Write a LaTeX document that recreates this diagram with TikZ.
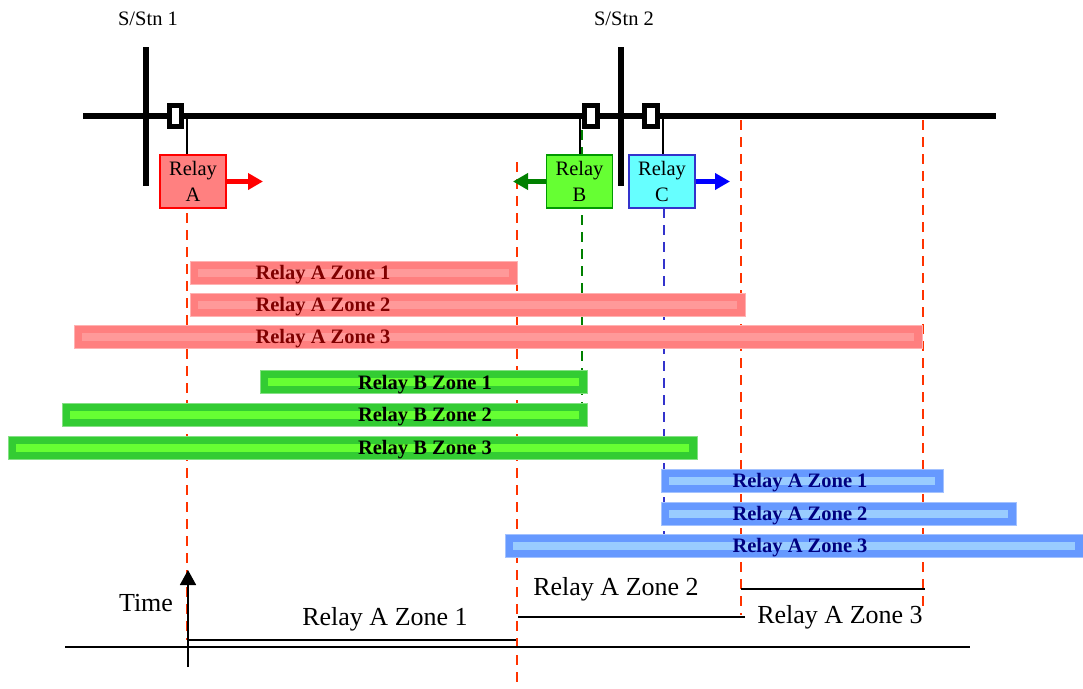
\documentclass[tikz,border=0pt]{standalone}
\usepackage{fontspec}
\setmainfont{Liberation Serif}
\usetikzlibrary{arrows.meta}
\definecolor{rO}{HTML}{FF7F7F}
\definecolor{rI}{HTML}{FF9999}
\definecolor{rT}{HTML}{800000}
\definecolor{gO}{HTML}{33CC33}
\definecolor{gI}{HTML}{66FF33}
\definecolor{gT}{HTML}{000000}
\definecolor{bO}{HTML}{6699FF}
\definecolor{bI}{HTML}{99CCFF}
\definecolor{bT}{HTML}{000080}
\definecolor{dashred}{HTML}{FF3300}
\definecolor{relayAfill}{HTML}{FF8080}
\definecolor{relayBfill}{HTML}{66FF33}
\definecolor{relayBline}{HTML}{009900}
\definecolor{relayCfill}{HTML}{66FFFF}
\definecolor{relayCline}{HTML}{3333CC}
\definecolor{arrG}{HTML}{008000}
\tikzset{
  bus/.style={line width=5.3pt, black},
  brk/.style={draw=black, fill=white, line width=5pt, minimum width=12.2pt, minimum height=20.6pt, inner sep=0pt},
  tap/.style={line width=1.2pt, black},
  relaybox/.style={line width=1.5pt, minimum width=66pt, minimum height=53pt, inner sep=0pt, align=center, font=\fontsize{20.5}{26}\selectfont},
  dirarrow/.style={line width=4.5pt, -{Triangle[length=15pt,width=16pt]}},
  reach/.style={line width=2.6pt, dash pattern=on 10pt off 7pt},
  barlabel/.style={font=\fontsize{20.5}{24}\selectfont\bfseries, inner sep=0pt, anchor=base},
  smalltext/.style={font=\fontsize{20.5}{24}\selectfont, inner sep=0pt, anchor=base},
  bigtext/.style={font=\fontsize{26}{30}\selectfont, inner sep=0pt, anchor=base},
  stepline/.style={line width=1.6pt, black},
}
\begin{document}
\begin{tikzpicture}[x=1pt,y=-1pt]
\useasboundingbox (0,0) rectangle (1083,688);

% station labels
\node[smalltext] (stn1) at (148,25) {S/Stn 1};
\node[smalltext] (stn2) at (624,25) {S/Stn 2};

% reach dashed lines (behind bars)
\coordinate (dA1) at (187,145); \coordinate (dA2) at (187,640);
\coordinate (dB1) at (517,162); \coordinate (dB2) at (517,688);
\coordinate (dC1) at (741,120); \coordinate (dC2) at (741,615);
\coordinate (dD1) at (923,120); \coordinate (dD2) at (923,610);
\coordinate (dG1) at (582,130); \coordinate (dG2) at (582,426);
\coordinate (dL1) at (664,208); \coordinate (dL2) at (664,535);
\draw[reach, dashred] (dA1) -- (dA2);
\draw[reach, dashred] (dB1) -- (dB2);
\draw[reach, dashred] (dC1) -- (dC2);
\draw[reach, dashred] (dD1) -- (dD2);
\draw[reach, arrG] (dG1) -- (dG2);
\draw[reach, relayCline] (dL1) -- (dL2);

% bus bars
\coordinate (busL) at (83,116); \coordinate (busR) at (996,116);
\coordinate (s1t) at (146,47); \coordinate (s1b) at (146,186);
\coordinate (s2t) at (621,47); \coordinate (s2b) at (621,186);
\draw[bus] (busL) -- (busR);
\draw[bus] (s1t) -- (s1b);
\draw[bus] (s2t) -- (s2b);

% relay boxes
\node[relaybox, draw=red, fill=relayAfill] (relA) at (193,181.5) {Relay\\A};
\node[relaybox, draw=relayBline, fill=relayBfill] (relB) at (579.5,181.5) {Relay\\B};
\node[relaybox, draw=relayCline, fill=relayCfill] (relC) at (662,181.5) {Relay\\C};

% taps from breakers to relays
\coordinate (tA) at (187,116); \coordinate (tB) at (580,116); \coordinate (tC) at (663,116);
\draw[tap] (tA) -- (tA |- relA.north);
\draw[tap] (tB) -- (tB |- relB.north);
\draw[tap] (tC) -- (tC |- relC.north);

% breakers
\node[brk] (cbA) at (175.5,116) {};
\node[brk] (cbB) at (591,116) {};
\node[brk] (cbC) at (651,116) {};

% direction arrows
\coordinate (aA) at (263,181.5);
\coordinate (aB) at (513,181.5);
\coordinate (aC) at (730,181.5);
\draw[dirarrow, red] (relA.east) -- (aA);
\draw[dirarrow, arrG] (relB.west) -- (aB);
\draw[dirarrow, blue] (relC.east) -- (aC);

% zone bars
\foreach \nm/\xa/\xb/\yc/\co/\ci/\ct/\lab/\lx in {
  ra1/190/517/272.5/rO/rI/rT/Relay A Zone 1/323,
  ra2/190/745/304.5/rO/rI/rT/Relay A Zone 2/323,
  ra3/74/922/336.5/rO/rI/rT/Relay A Zone 3/323,
  gb1/260/587/382/gO/gI/gT/Relay B Zone 1/425,
  gb2/62/587/414.5/gO/gI/gT/Relay B Zone 2/425,
  gb3/8/697/447.5/gO/gI/gT/Relay B Zone 3/425,
  ba1/661/943/480.5/bO/bI/bT/Relay A Zone 1/800,
  ba2/661/1016/513.5/bO/bI/bT/Relay A Zone 2/800,
  ba3/505/1083/545.5/bO/bI/bT/Relay A Zone 3/800}{
  \fill[\co] (\xa,\yc-11.5) rectangle (\xb,\yc+11.5);
  \draw[\co!60!white, line width=0.7pt] (\xa,\yc-11.5) rectangle (\xb,\yc+11.5);
  \fill[\ci] (\xa+8,\yc-4) rectangle (\xb-8,\yc+4);
  \node[barlabel, text=\ct] (lbl\nm) at (\lx,\yc+7) {\lab};
}

% time diagram
\coordinate (baseL) at (65,647); \coordinate (baseR) at (970,647);
\draw[stepline] (baseL) -- (baseR);
\coordinate (tb) at (188,667); \coordinate (tt) at (188,570);
\draw[line width=1.8pt, -{Triangle[length=15pt,width=16pt]}] (tb) -- (tt);
\node[bigtext] (timelbl) at (146,611) {Time};
\coordinate (z1a) at (189,640); \coordinate (z1b) at (516,640);
\coordinate (z2a) at (518,617); \coordinate (z2b) at (745,617);
\coordinate (z3a) at (741,589); \coordinate (z3b) at (925,589);
\draw[stepline] (z1a) -- (z1b);
\draw[stepline] (z2a) -- (z2b);
\draw[stepline] (z3a) -- (z3b);
\node[bigtext] (z1lbl) at (385,625) {Relay A Zone 1};
\node[bigtext] (z2lbl) at (616,595) {Relay A Zone 2};
\node[bigtext] (z3lbl) at (840,623) {Relay A Zone 3};
\end{tikzpicture}
\end{document}
